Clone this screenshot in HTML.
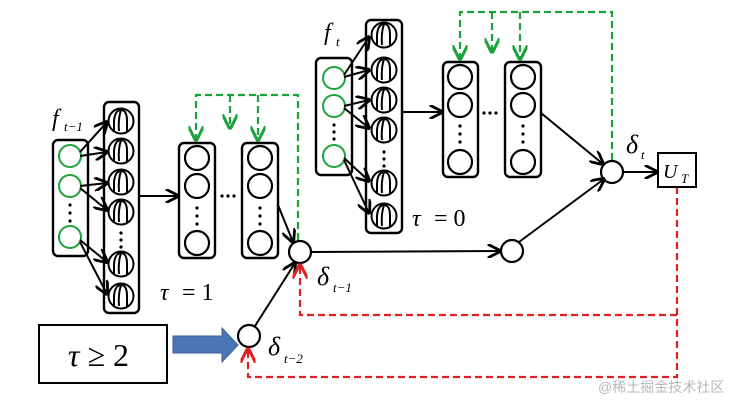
<!DOCTYPE html>
<html><head><meta charset="utf-8"><style>
html,body{margin:0;padding:0;background:#fff;}
svg{display:block;font-family:"Liberation Serif","Noto Serif CJK SC",serif;}
</style></head><body>
<svg width="745" height="402" viewBox="0 0 745 402" xmlns="http://www.w3.org/2000/svg">
<defs>
<marker id="ak" viewBox="0 0 10 10" refX="9" refY="5" markerWidth="7" markerHeight="7" orient="auto"><path d="M0,0 L10,5 L0,10" fill="none" stroke="#000" stroke-width="2"/></marker>
<marker id="ag" viewBox="0 0 10 10" refX="9" refY="5" markerWidth="7" markerHeight="7" orient="auto"><path d="M0,0 L10,5 L0,10" fill="none" stroke="#1aa33a" stroke-width="2"/></marker>
<marker id="ar" viewBox="0 0 10 10" refX="9" refY="5" markerWidth="7" markerHeight="7" orient="auto"><path d="M0,0 L10,5 L0,10" fill="none" stroke="#e02020" stroke-width="2"/></marker>
<g id="ac"><circle cx="0" cy="0" r="12.5"/><path d="M-7,11 L-7,0 Q-6,-11 0,-11 Q6,-11 6,0 L6,11 M0,-11 Q-3,-2 -2,10"/></g>
</defs>
<g fill="none" stroke="#000" stroke-width="2.4">
<rect x="53" y="140" width="35" height="116" rx="5"/>
<rect x="104" y="102" width="35" height="211" rx="5"/>
<rect x="179" y="143" width="36" height="115" rx="5"/>
<rect x="242" y="143" width="36" height="115" rx="5"/>
<rect x="316" y="58" width="36" height="117" rx="5"/>
<rect x="366" y="20" width="36" height="213" rx="5"/>
<rect x="443" y="62" width="35" height="115" rx="5"/>
<rect x="505" y="62" width="36" height="115" rx="5"/>
</g>
<g fill="none" stroke="#1aa33a" stroke-width="2">
<circle cx="70" cy="156" r="11"/><circle cx="70" cy="186" r="11"/><circle cx="70" cy="237" r="11"/>
<circle cx="334" cy="78" r="11"/><circle cx="334" cy="106" r="11"/><circle cx="334" cy="156" r="11"/>
</g>
<g fill="#000"><circle cx="70" cy="205" r="1.6"/><circle cx="70" cy="213" r="1.6"/><circle cx="70" cy="221" r="1.6"/>
<circle cx="334" cy="125" r="1.6"/><circle cx="334" cy="132" r="1.6"/><circle cx="334" cy="139" r="1.6"/>
<circle cx="121" cy="233" r="1.6"/><circle cx="121" cy="240" r="1.6"/><circle cx="121" cy="247" r="1.6"/>
<circle cx="384" cy="152" r="1.6"/><circle cx="384" cy="159" r="1.6"/><circle cx="384" cy="166" r="1.6"/>
<circle cx="197" cy="208" r="1.6"/><circle cx="197" cy="216" r="1.6"/><circle cx="197" cy="224" r="1.6"/>
<circle cx="260" cy="208" r="1.6"/><circle cx="260" cy="216" r="1.6"/><circle cx="260" cy="224" r="1.6"/>
<circle cx="460" cy="126" r="1.6"/><circle cx="460" cy="134" r="1.6"/><circle cx="460" cy="142" r="1.6"/>
<circle cx="523" cy="126" r="1.6"/><circle cx="523" cy="134" r="1.6"/><circle cx="523" cy="142" r="1.6"/>
<circle cx="222" cy="196" r="1.6"/><circle cx="228" cy="196" r="1.6"/><circle cx="234" cy="196" r="1.6"/>
<circle cx="484" cy="113" r="1.6"/><circle cx="490" cy="113" r="1.6"/><circle cx="496" cy="113" r="1.6"/>
</g>
<g fill="none" stroke="#000" stroke-width="2.2">
<circle cx="197" cy="158" r="12"/><circle cx="197" cy="186" r="12"/><circle cx="197" cy="243" r="12"/>
<circle cx="260" cy="158" r="12"/><circle cx="260" cy="186" r="12"/><circle cx="260" cy="243" r="12"/>
<circle cx="460" cy="77" r="12"/><circle cx="460" cy="105" r="12"/><circle cx="460" cy="162" r="12"/>
<circle cx="523" cy="77" r="12"/><circle cx="523" cy="105" r="12"/><circle cx="523" cy="162" r="12"/>
<circle cx="300" cy="252" r="11"/><circle cx="512" cy="251" r="11"/><circle cx="612" cy="172" r="11"/><circle cx="249" cy="336" r="11"/>
</g>
<g fill="none" stroke="#000" stroke-width="2">
<use href="#ac" x="121" y="121"/><use href="#ac" x="121" y="151"/><use href="#ac" x="121" y="182"/>
<use href="#ac" x="121" y="212"/><use href="#ac" x="121" y="264"/><use href="#ac" x="121" y="296"/>
<use href="#ac" x="384" y="35"/><use href="#ac" x="384" y="70"/><use href="#ac" x="384" y="100"/>
<use href="#ac" x="384" y="130"/><use href="#ac" x="384" y="183"/><use href="#ac" x="384" y="216"/>
</g>
<g stroke="#000" stroke-width="2" marker-end="url(#ak)">
<line x1="80" y1="152" x2="107" y2="122"/><line x1="80" y1="156" x2="107" y2="152"/>
<line x1="80" y1="186" x2="107" y2="183"/><line x1="80" y1="188" x2="107" y2="210"/>
<line x1="80" y1="240" x2="107" y2="262"/><line x1="80" y1="242" x2="107" y2="294"/>
<line x1="344" y1="75" x2="369" y2="37"/><line x1="344" y1="77" x2="369" y2="70"/>
<line x1="344" y1="106" x2="369" y2="100"/><line x1="344" y1="108" x2="369" y2="128"/>
<line x1="344" y1="158" x2="369" y2="181"/><line x1="344" y1="160" x2="369" y2="213"/>
<line x1="139" y1="196" x2="178" y2="196"/>
<line x1="402" y1="112" x2="442" y2="112"/>
<line x1="278" y1="205" x2="293" y2="242"/>
<line x1="541" y1="113" x2="603" y2="164"/>
<line x1="311" y1="252" x2="500" y2="251"/>
<line x1="519" y1="242" x2="604" y2="179"/>
<line x1="623" y1="172" x2="657" y2="172"/>
<line x1="255" y1="326" x2="295" y2="263"/>
</g>
<g fill="none" stroke="#1aa33a" stroke-width="2.2" stroke-dasharray="7,4">
<path d="M298,240 L298,95 L196,95 L196,140" marker-end="url(#ag)"/>
<path d="M230,95 L230,128" marker-end="url(#ag)"/>
<path d="M258,95 L258,140" marker-end="url(#ag)"/>
<path d="M612,160 L612,12 L460,12 L460,59" marker-end="url(#ag)"/>
<path d="M492,12 L492,52" marker-end="url(#ag)"/>
<path d="M520,12 L520,59" marker-end="url(#ag)"/>
</g>
<g fill="none" stroke="#e02020" stroke-width="2.2" stroke-dasharray="7,4">
<path d="M677,187 L677,377 L248,377 L248,349" marker-end="url(#ar)"/>
<path d="M677,315 L300,315 L300,265" marker-end="url(#ar)"/>
</g>
<rect x="658" y="153" width="38" height="34" fill="none" stroke="#000" stroke-width="2"/>
<text x="663" y="178" font-size="20" font-style="italic">U</text><text x="681" y="183" font-size="13" font-style="italic">T</text>
<rect x="39" y="325" width="128" height="58" fill="none" stroke="#000" stroke-width="2"/>
<text x="68" y="366" font-size="32"><tspan font-style="italic">τ</tspan> ≥ 2</text>
<path d="M173,336 L222,336 L222,328 L238,345 L222,362 L222,353 L173,353 Z" fill="#4a76b5" stroke="#3a5f95" stroke-width="1"/>
<text x="52" y="126" font-size="24" font-style="italic">f</text><text x="64" y="131" font-size="13" font-style="italic">t−1</text>
<text x="324" y="40" font-size="24" font-style="italic">f</text><text x="336" y="46" font-size="13" font-style="italic">t</text>
<text x="160" y="300" font-size="24" font-style="italic">τ</text><text x="182" y="300" font-size="24">= 1</text>
<text x="412" y="226" font-size="24" font-style="italic">τ</text><text x="434" y="226" font-size="24">= 0</text>
<text x="626" y="153" font-size="26" font-style="italic">δ</text><text x="641" y="159" font-size="13" font-style="italic">t</text>
<text x="317" y="285" font-size="26" font-style="italic">δ</text><text x="333" y="292" font-size="13" font-style="italic">t−1</text>
<text x="268" y="355" font-size="26" font-style="italic">δ</text><text x="284" y="363" font-size="13" font-style="italic">t−2</text>
<text x="598" y="392" font-size="14" fill="#b8b8b8" font-family="'Liberation Sans','Noto Sans CJK SC',sans-serif">@稀土掘金技术社区</text>
</svg>
</body></html>
